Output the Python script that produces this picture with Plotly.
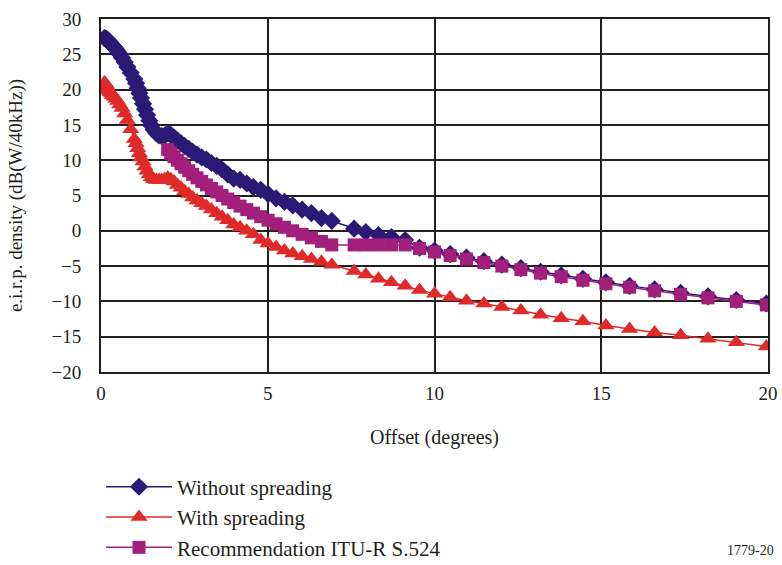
import plotly.graph_objects as go

# Offset angles (degrees)
offset = [0.1, 0.12, 0.14, 0.16, 0.18, 0.2, 0.22, 0.25, 0.28, 0.32, 0.35, 0.4, 0.45, 0.5,
          0.56, 0.63, 0.71, 0.79, 0.89,
          1.0, 1.05, 1.1, 1.15, 1.2, 1.26, 1.32, 1.38, 1.45, 1.51, 1.58, 1.66, 1.74, 1.82, 1.91,
          2.0, 2.09, 2.19, 2.29, 2.4, 2.51, 2.63, 2.75, 2.88, 3.02, 3.16, 3.31, 3.47, 3.63, 3.8,
          3.98, 4.17, 4.37, 4.57, 4.79, 5.01, 5.25, 5.5, 5.75, 6.03, 6.31, 6.61, 6.92,
          7.59, 7.94, 8.32, 8.71, 9.12, 9.55, 10.0, 10.47, 10.96, 11.48, 12.02, 12.59, 13.18,
          13.8, 14.45, 15.14, 15.85, 16.6, 17.38, 18.2, 19.05, 19.95]

without_spreading = [27.3, 27.25, 27.2, 27.15, 27.1, 27.0, 26.9, 26.8, 26.6, 26.4, 26.2, 26.0, 25.7, 25.4,
                     25.0, 24.5, 23.9, 23.2, 22.4,
                     21.5, 20.9, 20.2, 19.5, 18.8, 18.0, 17.2, 16.4, 15.6, 14.9, 14.3, 13.8, 13.5, 13.4, 13.5,
                     13.8, 13.6, 13.2, 12.8, 12.4, 12.0, 11.6, 11.2, 10.8, 10.4, 10.1, 9.6, 9.2, 8.7, 8.0,
                     7.4, 7.2, 6.7, 6.2, 5.8, 5.2, 4.6, 4.1, 3.6, 3.0, 2.5, 1.8, 1.4,
                     0.3, -0.2, -0.6, -0.9, -1.3, -2.4, -2.8, -3.3, -3.8, -4.3, -4.8, -5.3, -5.8,
                     -6.3, -6.8, -7.3, -7.8, -8.3, -8.8, -9.3, -9.8, -10.3]

with_spreading = [21.0, 20.9, 20.8, 20.6, 20.4, 20.2, 20.0, 19.8, 19.6, 19.4, 19.2, 19.0, 18.7, 18.4,
                  17.9, 17.4, 16.6, 15.7, 14.4,
                  13.0, 12.4, 11.7, 11.0, 10.4, 9.8, 9.1, 8.5, 8.0, 7.6, 7.3, 7.2, 7.2, 7.2, 7.3,
                  7.5, 7.3, 7.0, 6.5, 6.1, 5.6, 5.2, 4.7, 4.3, 3.9, 3.5, 3.0, 2.5, 2.0, 1.5,
                  0.9, 0.5, 0.0, -0.5, -1.3, -1.8, -2.3, -2.8, -3.2, -3.6, -4.0, -4.4, -4.8,
                  -5.7, -6.2, -6.8, -7.3, -7.8, -8.4, -8.9, -9.4, -9.9, -10.3, -10.8, -11.3, -11.9,
                  -12.4, -12.8, -13.4, -13.9, -14.4, -14.8, -15.3, -15.8, -16.4]

# Recommendation ITU-R S.524 mask (starts at 2 degrees)
itu_offset = offset[34:]
itu_s524 = [11.5, 11.0, 10.5, 10.0, 9.5, 9.0, 8.5, 8.0, 7.5, 7.0, 6.5, 6.0, 5.5, 5.0, 4.5,
            4.0, 3.5, 3.0, 2.5, 2.0, 1.5, 1.0, 0.5, 0.0, -0.5, -1.0, -1.5, -2.0,
            -2.0, -2.0, -2.0, -2.0, -2.0, -2.5, -3.0, -3.5, -4.0, -4.5, -5.0, -5.5, -6.0,
            -6.5, -7.0, -7.5, -8.0, -8.5, -9.0, -9.5, -10.0, -10.5]

y_ticks = [30, 25, 20, 15, 10, 5, 0, -5, -10, -15, -20]
x_ticks = [0, 5, 10, 15, 20]

NAVY = "#2b1a75"
RED = "#e02a2a"
PURPLE = "#a2207b"
GRID = "#231f20"
FONT = "Times New Roman, Liberation Serif, DejaVu Serif, serif"

fig = go.Figure()
fig.add_trace(go.Scatter(x=offset, y=without_spreading, mode="lines+markers",
                         name="Without spreading",
                         line=dict(color=NAVY, width=1.5),
                         marker=dict(symbol="diamond", size=14, color=NAVY, line=dict(width=0))))
fig.add_trace(go.Scatter(x=offset, y=with_spreading, mode="lines+markers",
                         name="With spreading",
                         line=dict(color=RED, width=1.5),
                         marker=dict(symbol="triangle-up", size=15, color=RED, line=dict(width=0))))
fig.add_trace(go.Scatter(x=itu_offset, y=itu_s524, mode="lines+markers",
                         name="Recommendation ITU-R S.524",
                         line=dict(color=PURPLE, width=1.5),
                         marker=dict(symbol="square", size=13, color=PURPLE, line=dict(width=0))))

fig.update_layout(
    width=782, height=565,
    margin=dict(l=101, r=14, t=19, b=193, autoexpand=False),
    paper_bgcolor="white", plot_bgcolor="white",
    font=dict(family=FONT, size=19, color="#231f20"),
    showlegend=True,
    legend=dict(x=0.0, xanchor="left", y=-0.268, yanchor="top",
                font=dict(family=FONT, size=21, color="#231f20"),
                itemwidth=66, tracegroupgap=0, bgcolor="rgba(0,0,0,0)"),
    annotations=[dict(text="1779-20", xref="paper", yref="paper", x=1.012, y=-0.505,
                      xanchor="right", yanchor="middle", showarrow=False,
                      font=dict(family=FONT, size=14, color="#231f20"))],
)
fig.update_xaxes(range=[0, 20], tickvals=x_ticks, showgrid=True, gridcolor=GRID, gridwidth=2,
                 showline=True, linecolor=GRID, linewidth=2, mirror=True, zeroline=False,
                 ticks="", ticklabelstandoff=3, automargin=False,
                 title=dict(text="Offset (degrees)", standoff=27, font=dict(size=20)))
fig.update_yaxes(range=[-20, 30], tickvals=y_ticks, showgrid=True, gridcolor=GRID, gridwidth=2,
                 showline=True, linecolor=GRID, linewidth=2, mirror=True, zeroline=False,
                 ticks="", ticklabelstandoff=14, automargin=False,
                 title=dict(text="e.i.r.p. density (dB(W/40kHz))", standoff=24, font=dict(size=19)))

fig.write_html("out.html")
